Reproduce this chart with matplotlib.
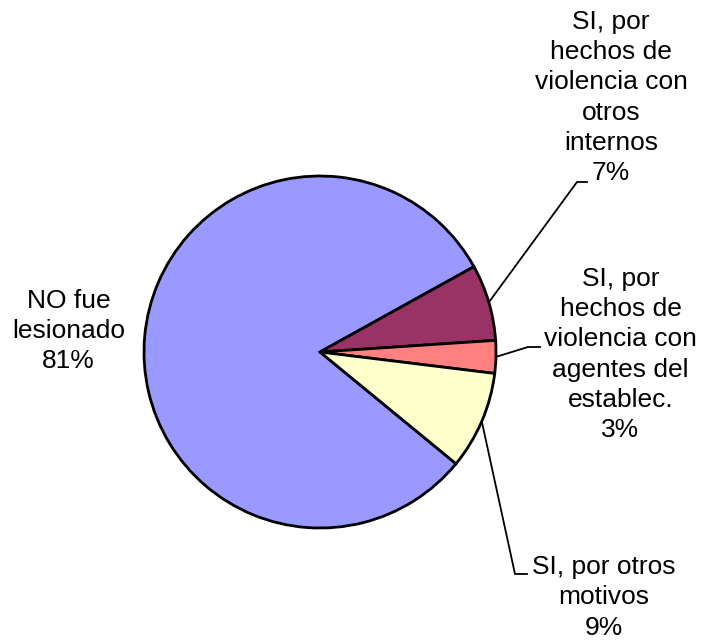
import numpy as np
import matplotlib
matplotlib.use("Agg")
import matplotlib.pyplot as plt

labels = ["NO fue\nlesionado", "SI, por\nhechos de\nviolencia con\notros\ninternos",
          "SI, por\nhechos de\nviolencia con\nagentes del\nestablec.", "SI, por otros\nmotivos"]
values = [81, 7, 3, 9]
colors = ["#9999FF", "#993366", "#FF8080", "#FFFFCC"]

W, H = 714, 640
fig = plt.figure(figsize=(W / 100, H / 100), dpi=100)
ax = fig.add_axes([0, 0, 1, 1])
ax.set_xlim(0, W)
ax.set_ylim(0, H)
ax.set_aspect("equal")
ax.axis("off")

cx, cy, r = 320, H - 352, 176
total = sum(values)
start = 29 + 360 * values[0] / total
wedges, _ = ax.pie(values, colors=colors, startangle=start, counterclock=False,
                   center=(cx, cy), radius=r, frame=True,
                   wedgeprops=dict(edgecolor="black", linewidth=2.0))
ax.set_xlim(0, W)
ax.set_ylim(0, H)
ax.axis("off")

font = dict(family="Liberation Sans", fontsize=19, linespacing=1.33,
            ha="center", va="center", color="black")

# label positions (center of text block) in pixel coords from top
text_pos = [(68.5, 331), (611, 97.5), (620.5, 354.5), (603.5, 597.5)]
# leader line elbow points (None for no leader)
elbows = [None, [(577, 182), (587, 182)], [(528, 347), (540, 347)], [(515, 574), (527, 574)]]

for i, (w, lab, v) in enumerate(zip(wedges, labels, values)):
    pct = f"{round(100 * v / total)}%"
    tx, ty = text_pos[i]
    ax.text(tx, H - ty, f"{lab}\n{pct}", **font)
    if elbows[i] is not None:
        mid = np.deg2rad((w.theta1 + w.theta2) / 2)
        px, py = cx + r * np.cos(mid), cy + r * np.sin(mid)
        xs = [px] + [e[0] for e in elbows[i]]
        ys = [py] + [H - e[1] for e in elbows[i]]
        ax.plot(xs, ys, color="black", linewidth=1.3, zorder=0.5)

fig.savefig("out.png", dpi=100)
